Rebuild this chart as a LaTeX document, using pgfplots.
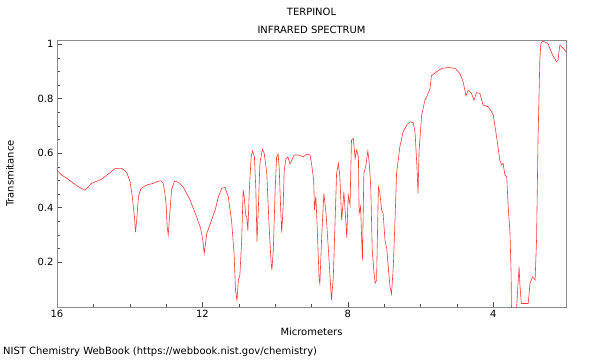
\documentclass[border=0pt]{standalone}
\usepackage{fontspec}
\setmainfont{DejaVu Sans}
\usepackage{pgfplots}
\pgfplotsset{compat=1.18}
\definecolor{specred}{RGB}{255,55,55}
\begin{document}
\begin{tikzpicture}[x=1bp,y=1bp]
\path[use as bounding box] (0,0) rectangle (600,360);
\begin{axis}[at={(57bp,53bp)}, anchor=south west, width=509bp, height=267bp, scale only axis,
  x dir=reverse, xmin=2, xmax=16, ymin=0.035, ymax=1.015,
  xtick={4,8,12,16}, minor x tick num=3,
  ytick={0.2,0.4,0.6,0.8,1}, minor y tick num=3,
  tick pos=left, tick align=inside,
  axis line style={black!45},
  major tick length=5bp, minor tick length=3bp,
  tick style={black!70},
  ticklabel style={font=\fontsize{10}{12}\selectfont},
  /pgf/number format/assume math mode=true,
  xlabel={Micrometers}, ylabel={Transmitance},
  label style={font=\fontsize{10}{12}\selectfont},
  xlabel style={at={(axis description cs:0.5,-0.0936)}, anchor=center},
  ylabel style={at={(axis description cs:-0.0923,0.5)}, anchor=center},
]
\addplot[color=specred, line width=0.6bp, mark=none] coordinates {
(16.00,0.537)(15.87,0.519)(15.69,0.504)(15.55,0.489)(15.41,0.476)(15.23,0.464)
(15.14,0.476)(15.05,0.489)(14.77,0.504)(14.59,0.523)(14.40,0.544)(14.22,0.544)
(14.08,0.528)(13.99,0.495)(13.93,0.440)(13.87,0.366)(13.84,0.310)(13.80,0.366)
(13.76,0.440)(13.69,0.470)(13.53,0.483)(13.35,0.489)(13.21,0.497)(13.14,0.498)
(13.08,0.489)(13.03,0.450)(13.00,0.415)(12.97,0.330)(12.94,0.300)(12.89,0.391)
(12.85,0.464)(12.77,0.497)(12.66,0.493)(12.53,0.476)(12.34,0.428)(12.16,0.366)
(12.05,0.324)(11.99,0.281)(11.95,0.232)(11.88,0.305)(11.75,0.354)(11.65,0.391)
(11.56,0.440)(11.47,0.470)(11.38,0.474)(11.29,0.440)(11.20,0.354)(11.13,0.232)
(11.09,0.097)(11.05,0.060)(11.01,0.134)(10.97,0.152)(10.92,0.281)(10.88,0.464)
(10.85,0.440)(10.81,0.372)(10.78,0.366)(10.75,0.315)(10.71,0.464)(10.66,0.586)
(10.62,0.608)(10.57,0.586)(10.53,0.464)(10.50,0.275)(10.46,0.403)(10.42,0.562)
(10.35,0.614)(10.30,0.599)(10.23,0.526)(10.17,0.342)(10.11,0.195)(10.09,0.170)
(10.05,0.244)(10.00,0.464)(9.96,0.586)(9.92,0.596)(9.89,0.550)(9.85,0.403)
(9.82,0.308)(9.78,0.403)(9.75,0.538)(9.70,0.580)(9.65,0.586)(9.59,0.560)
(9.54,0.574)(9.48,0.593)(9.36,0.593)(9.23,0.586)(9.13,0.596)(9.04,0.593)
(9.00,0.562)(8.94,0.501)(8.92,0.391)(8.88,0.442)(8.84,0.317)(8.79,0.134)
(8.77,0.120)(8.72,0.293)(8.66,0.452)(8.60,0.379)(8.54,0.256)(8.49,0.146)
(8.45,0.060)(8.40,0.146)(8.35,0.354)(8.31,0.526)(8.26,0.562)(8.22,0.513)
(8.17,0.354)(8.14,0.403)(8.11,0.458)(8.07,0.379)(8.03,0.290)(7.99,0.446)
(7.94,0.409)(7.90,0.648)(7.85,0.654)(7.80,0.580)(7.76,0.611)(7.71,0.586)
(7.69,0.379)(7.65,0.403)(7.60,0.205)(7.56,0.526)(7.51,0.550)(7.45,0.608)
(7.41,0.562)(7.37,0.476)(7.33,0.244)(7.28,0.160)(7.25,0.122)(7.21,0.134)
(7.16,0.476)(7.12,0.452)(7.07,0.391)(7.03,0.379)(6.98,0.281)(6.93,0.250)
(6.89,0.183)(6.84,0.109)(6.80,0.083)(6.75,0.183)(6.70,0.366)(6.66,0.526)
(6.57,0.623)(6.48,0.678)(6.38,0.703)(6.29,0.715)(6.20,0.711)(6.15,0.672)
(6.10,0.550)(6.07,0.452)(6.04,0.611)(5.97,0.740)(5.88,0.794)(5.83,0.807)
(5.74,0.837)(5.70,0.884)(5.56,0.898)(5.42,0.911)(5.24,0.914)(5.05,0.911)
(4.92,0.892)(4.83,0.862)(4.75,0.810)(4.69,0.831)(4.60,0.819)(4.53,0.794)
(4.46,0.822)(4.37,0.819)(4.28,0.776)(4.14,0.770)(4.05,0.752)(4.00,0.739)
(3.91,0.660)(3.82,0.574)(3.77,0.556)(3.73,0.562)(3.68,0.519)(3.63,0.513)
(3.59,0.403)(3.54,0.305)(3.51,0.159)(3.50,0.030)(3.36,0.030)(3.32,0.120)
(3.29,0.183)(3.27,0.122)(3.23,0.048)(3.04,0.048)(2.99,0.122)(2.92,0.146)
(2.85,0.134)(2.81,0.281)(2.77,0.648)(2.72,0.941)(2.69,1.003)(2.64,1.011)
(2.50,1.003)(2.37,0.960)(2.26,0.935)(2.22,0.941)(2.17,0.996)(2.08,0.985)
(2.00,0.972)
};
\end{axis}
\node[font=\fontsize{10}{12}\selectfont] at (311.5,348) {TERPINOL};
\node[font=\fontsize{10}{12}\selectfont] at (311.5,330) {INFRARED SPECTRUM};
\node[font=\fontsize{10}{12}\selectfont, anchor=west, inner sep=0pt] at (3,8) {NIST Chemistry WebBook (https://webbook.nist.gov/chemistry)};
\end{tikzpicture}
\end{document}
